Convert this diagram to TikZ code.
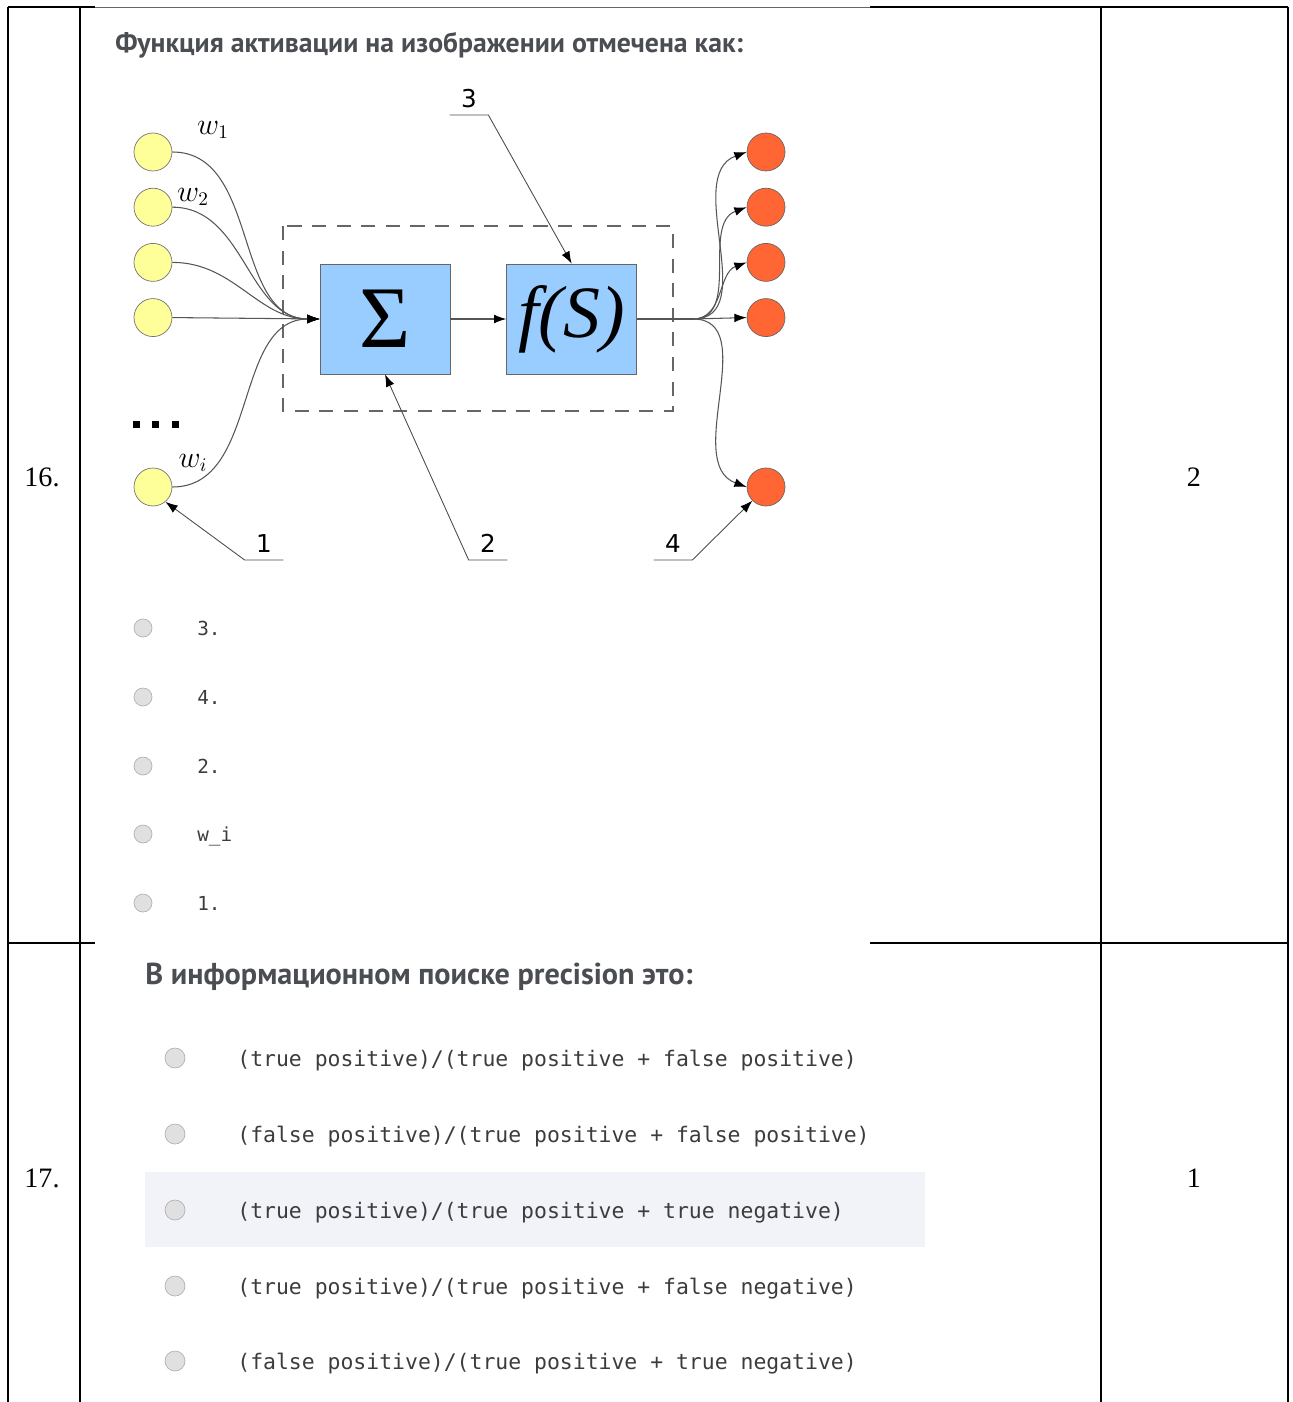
\documentclass[tikz,border=0pt]{standalone}
\usepackage{fontspec}
\setmainfont{Liberation Serif}
\setmonofont{DejaVu Sans Mono}
\newfontfamily\headfont{PT Sans}
\newfontfamily\lblfont{DejaVu Sans}
\usetikzlibrary{positioning,arrows.meta}

\definecolor{inyellow}{HTML}{FFFF99}
\definecolor{outred}{HTML}{FF6633}
\definecolor{boxblue}{HTML}{99CCFF}
\definecolor{headgray}{HTML}{4A4D52}
\definecolor{optgray}{HTML}{3C3C3C}
\definecolor{rowhl}{HTML}{F2F3F8}
\definecolor{wiregray}{HTML}{555555}

\begin{document}
\begin{tikzpicture}[x=0.02cm, y=-0.02cm, >={Latex[length=7pt,width=5pt,color=black]},
    inp/.style={circle, draw=black!55, fill=inyellow, minimum size=0.76cm, inner sep=0pt},
    outp/.style={circle, draw=black!60, fill=outred, minimum size=0.76cm, inner sep=0pt},
    blk/.style={draw=black!60, fill=boxblue, minimum width=2.6cm, minimum height=2.2cm, inner sep=0pt},
    wire/.style={draw=wiregray, line width=0.6pt},
    ptr/.style={draw=black!70, line width=0.5pt},
    num/.style={font=\lblfont\fontsize{14}{16}\selectfont, minimum width=0.76cm, inner xsep=0pt, inner ysep=4pt, anchor=south},
    wlab/.style={font=\fontsize{16}{18}\selectfont},
    radio/.style={circle, draw=black!30, fill=black!12, inner sep=0pt},
    opt/.style={anchor=base west, inner sep=0pt, text=optgray},
    cell/.style={font=\fontsize{16}{19}\selectfont},
    rule/.style={line width=1.2pt}]

	\useasboundingbox (0,0) rectangle (1292,1402);

	% table
	\fill[rowhl] (145,1172) rectangle (925,1247);
	\draw[rule] (8,7) -- (8,1402);
	\draw[rule] (80,7) -- (80,1402);
	\draw[rule] (1101,7) -- (1101,1402);
	\draw[rule] (1288,7) -- (1288,1402);
	\draw[rule] (8,7) -- (95,7);
	\draw[black!60, line width=0.5pt] (95,7) -- (870,7);
	\draw[rule] (870,7) -- (1288,7);
	\draw[rule] (8,943) -- (95,943);
	\draw[line width=0.6pt] (870,943) -- (925,943);
	\draw[rule] (925,943) -- (1288,943);

	\node[cell] (n16) at (42,477) {16.};
	\node[cell] (a16) at (1194,477) {2};
	\node[cell] (n17) at (42,1178) {17.};
	\node[cell] (a17) at (1194,1178) {1};

	% question 16
	\node[anchor=base west, inner sep=0pt, text=headgray, font=\headfont\bfseries\fontsize{15.8}{18}\selectfont] (q16) at (115,53) {Функция активации на изображении отмечена как:};

	\node[inp] (in1) at (153,152) {};
	\node[inp, below=0.33cm of in1] (in2) {};
	\node[inp, below=0.33cm of in2] (in3) {};
	\node[inp, below=0.33cm of in3] (in4) {};
	\node[inp] (in5) at (153,487) {};
	\fill (133,421) rectangle +(7,7);
	\fill (152,421) rectangle +(7,7);
	\fill (172,421) rectangle +(7,7);

	\node[wlab] (w1) at (213,130) {$w_1$};
	\node[wlab] (w2) at (193,197) {$w_2$};
	\node[wlab] (wi) at (193,463) {$w_i$};

	\draw[black!60, dash pattern=on 8pt off 6pt, line width=0.6pt] (283,226) rectangle (673,411);
	\node[blk, font=\fontsize{50}{50}\selectfont] (sum) at (385,319) {Σ};
	\node[blk, right=1.12cm of sum, font=\itshape\fontsize{42}{42}\selectfont] (act) {f(S)};

	\node[outp] (out1) at (766,152) {};
	\node[outp, below=0.33cm of out1] (out2) {};
	\node[outp, below=0.33cm of out2] (out3) {};
	\node[outp, below=0.33cm of out3] (out4) {};
	\node[outp] (out5) at (766,487) {};
	\coordinate (split) at (693,319);

	\draw[wire, ->] (in1.east) to[out=0, in=180] (sum.west);
	\draw[wire, ->] (in2.east) to[out=0, in=180] (sum.west);
	\draw[wire, ->] (in3.east) to[out=0, in=180] (sum.west);
	\draw[wire, ->] (in4.east) -- (sum.west);
	\draw[wire, ->] (in5.east) to[out=0, in=180] (sum.west);
	\draw[wire, ->] (sum) -- (act);
	\draw[wire] (act.east) -- (split);
	\draw[wire, ->] (split) to[out=0, in=200] (out1.west);
	\draw[wire, ->] (split) to[out=0, in=200] (out2.west);
	\draw[wire, ->] (split) to[out=0, in=200] (out3.west);
	\draw[wire, ->] (split) -- (out4.west);
	\draw[wire, ->] (split) to[out=0, in=160] (out5.west);

	\node[num] (p3) at (469,115) {3};
	\node[num] (p2) at (488,560) {2};
	\node[num] (p1) at (264,560) {1};
	\node[num] (p4) at (673,560) {4};
	\draw[ptr, ->] (p3.south west) -- (p3.south east) -- (act.north);
	\draw[ptr, ->] (p2.south east) -- (p2.south west) -- (sum.south);
	\draw[ptr, ->] (p1.south east) -- (p1.south west) -- (in5.-50);
	\draw[ptr, ->] (p4.south west) -- (p4.south east) -- (out5.-135);

	\node[radio, minimum size=0.36cm] (r1) at (143,628) {};
	\node[radio, minimum size=0.36cm] (r2) at (143,697) {};
	\node[radio, minimum size=0.36cm] (r3) at (143,766) {};
	\node[radio, minimum size=0.36cm] (r4) at (143,834) {};
	\node[radio, minimum size=0.36cm] (r5) at (143,903) {};
	\node[opt, font=\ttfamily\fontsize{11}{13}\selectfont] (o1) at (197,635) {3.};
	\node[opt, font=\ttfamily\fontsize{11}{13}\selectfont] (o2) at (197,704) {4.};
	\node[opt, font=\ttfamily\fontsize{11}{13}\selectfont] (o3) at (197,773) {2.};
	\node[opt, font=\ttfamily\fontsize{11}{13}\selectfont] (o4) at (197,841) {w\_i};
	\node[opt, font=\ttfamily\fontsize{11}{13}\selectfont] (o5) at (197,910) {1.};

	% question 17
	\node[anchor=base west, inner sep=0pt, text=headgray, font=\headfont\bfseries\fontsize{17.2}{20}\selectfont] (q17) at (145,984) {В информационном поиске precision это:};

	\node[radio, minimum size=0.4cm] (s1) at (175,1058) {};
	\node[radio, minimum size=0.4cm] (s2) at (175,1134) {};
	\node[radio, minimum size=0.4cm] (s3) at (175,1210) {};
	\node[radio, minimum size=0.4cm] (s4) at (175,1286) {};
	\node[radio, minimum size=0.4cm] (s5) at (175,1361) {};
	\node[opt, font=\ttfamily\fontsize{12.2}{14}\selectfont] (t1) at (237,1066) {(true positive)/(true positive + false positive)};
	\node[opt, font=\ttfamily\fontsize{12.2}{14}\selectfont] (t2) at (237,1142) {(false positive)/(true positive + false positive)};
	\node[opt, font=\ttfamily\fontsize{12.2}{14}\selectfont] (t3) at (237,1218) {(true positive)/(true positive + true negative)};
	\node[opt, font=\ttfamily\fontsize{12.2}{14}\selectfont] (t4) at (237,1294) {(true positive)/(true positive + false negative)};
	\node[opt, font=\ttfamily\fontsize{12.2}{14}\selectfont] (t5) at (237,1369) {(false positive)/(true positive + true negative)};
\end{tikzpicture}
\end{document}
